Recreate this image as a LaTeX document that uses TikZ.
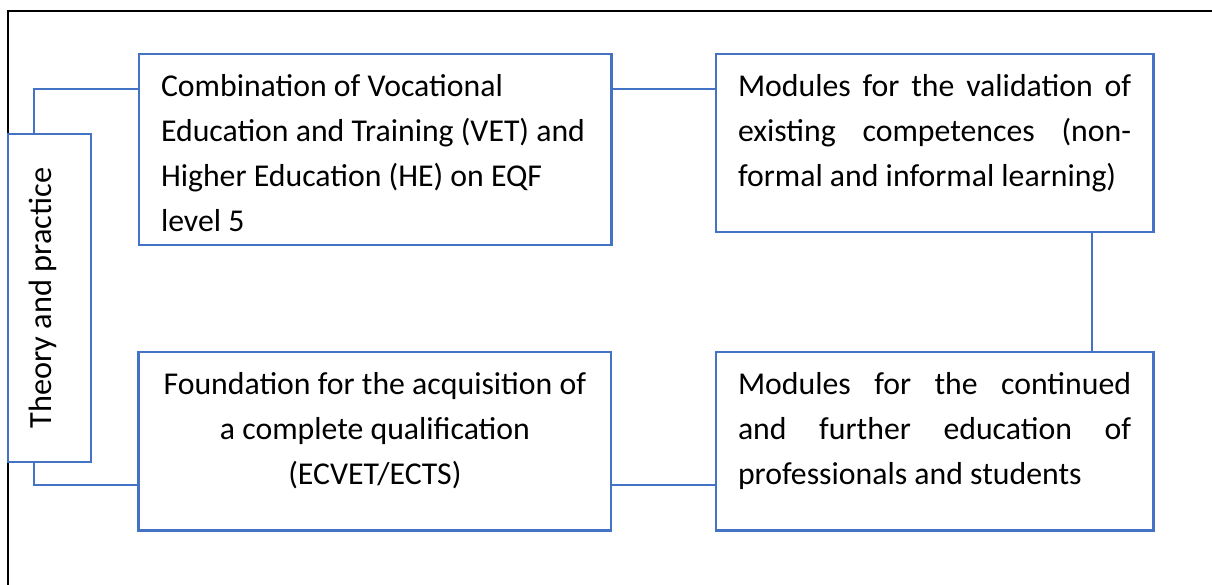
\documentclass[tikz,border=0pt]{standalone}
\usepackage{fontspec}
\setmainfont{Carlito}
\usetikzlibrary{positioning}
\definecolor{boxblue}{HTML}{4472C4}

\begin{document}
\begin{tikzpicture}[x=0.025cm,y=-0.025cm,
                    box/.style={draw=boxblue,line width=2pt,fill=white,outer sep=0pt,inner xsep=0.55cm,inner ysep=0pt,
                                text height=1.05cm,font=\fontsize{22.6}{32}\selectfont},
                    link/.style={draw=boxblue,line width=1pt}]
                    \useasboundingbox (0,0) rectangle (1212,585);
                    \draw[line width=1.4pt] (8,585) -- (8,11) -- (1212,11);

                    \node[draw=boxblue,line width=2pt,fill=white,outer sep=0pt,inner sep=0pt,minimum width=2.075cm,
                          minimum height=8.2cm,anchor=north west] (theory) at (8,134) {};
                    \node[rotate=90,anchor=base,font=\fontsize{23}{32}\selectfont] (tplabel) at ([xshift=0.04cm]theory.center) {Theory and practice};

                    \node[box,text width=10.7cm,align=flush left,text depth=3.725cm,anchor=north west] (comb) at (139,54)
                        {Combination of Vocational\\Education and Training (VET) and\\Higher Education (HE) on EQF\\level 5};
                    \node[box,text width=9.825cm,align=justify,text depth=3.4cm,anchor=north west] (valid) at (716,54)
                        {Modules for the validation of\linebreak existing competences (non-\linebreak formal and informal learning)};
                    \node[box,text width=9.825cm,align=justify,text depth=3.4cm,below=3cm of valid] (cont)
                        {Modules for the continued\linebreak and further education of\linebreak professionals and students};
                    \node[box,text width=10.7cm,align=flush center,text depth=3.4cm,left=2.625cm of cont] (found)
                        {Foundation for the acquisition of\\a complete qualification\\(ECVET/ECTS)};

                    \draw[link] ([xshift=0.65cm]theory.north west) |- ([yshift=-0.875cm]comb.north west);
                    \draw[link] ([yshift=-0.875cm]comb.north east) -- ([yshift=-0.875cm]valid.north west);
                    \draw[link] ([xshift=-1.525cm]valid.south east) -- ([xshift=-1.525cm]cont.north east);
                    \draw[link] ([yshift=1.125cm]found.south east) -- ([yshift=1.125cm]cont.south west);
                    \draw[link] ([xshift=0.65cm]theory.south west) |- ([yshift=1.125cm]found.south west);
\end{tikzpicture}
\end{document}
